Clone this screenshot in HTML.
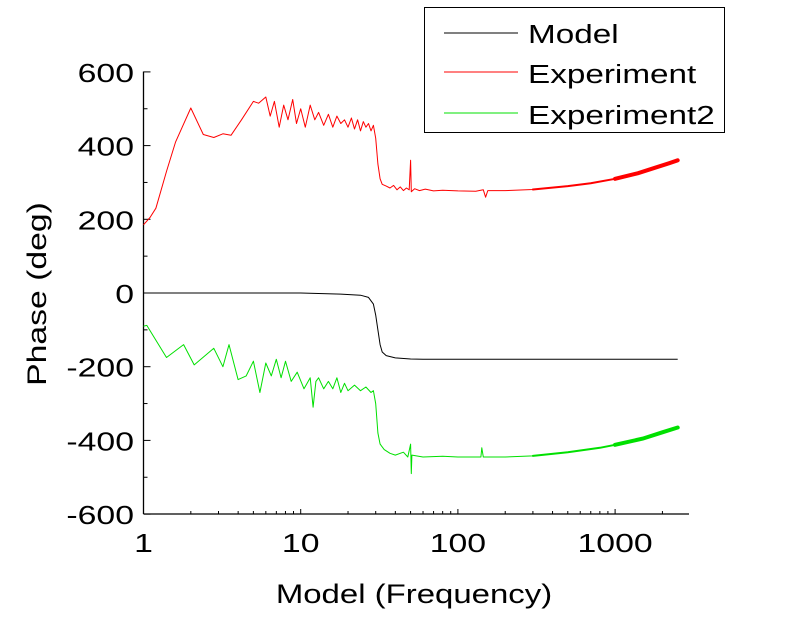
<!DOCTYPE html>
<html><head><meta charset="utf-8"><style>
html,body{margin:0;padding:0;background:#fff;}
svg{display:block;font-family:"Liberation Sans",Arial,sans-serif;}
</style></head><body>
<svg id="chart" width="800" height="617" viewBox="0 0 800 617" xmlns="http://www.w3.org/2000/svg">
<g id="axes"></g>
<g id="series"></g>
<text x="0" y="0" transform="translate(46,294) rotate(-90) scale(1.25,1)" text-anchor="middle" font-size="27">Phase (deg)</text>
<text x="0" y="0" transform="translate(414,603) scale(1.22,1)" text-anchor="middle" font-size="27">Model (Frequency)</text>
<g>
<rect x="424.5" y="7.5" width="300" height="125" fill="#fff" stroke="#000" stroke-width="1"/>
<line x1="444" y1="33" x2="518" y2="33" stroke="#000" stroke-width="1"/>
<text x="0" y="0" transform="translate(528,43) scale(1.28,1)" font-size="26">Model</text>
<line x1="444" y1="72" x2="518" y2="72" stroke="#ff0000" stroke-width="1"/>
<text x="0" y="0" transform="translate(528,83) scale(1.28,1)" font-size="26">Experiment</text>
<line x1="444" y1="113" x2="518" y2="113" stroke="#00e000" stroke-width="1"/>
<text x="0" y="0" transform="translate(528,124) scale(1.28,1)" font-size="26">Experiment2</text>
</g>
</svg>
<script>
const xTickValues = [1, 10, 100, 1000];
const xTickLabels = ["1", "10", "100", "1000"];
const yTickValues = [-600, -400, -200, 0, 200, 400, 600];
const yTickLabels = ["-600", "-400", "-200", "0", "200", "400", "600"];
const modelFreq = [1,10,18,24,27,29,30,31,32,33,35,40,50,60,2500];
const modelPhase = [0,0,-3,-6,-12,-30,-60,-100,-140,-160,-170,-176,-179,-180,-180];
const expFreq = [1,1.1,1.2,1.4,1.6,2.0,2.4,2.8,3.2,3.6,4.2,5.0,5.4,6.0,6.4,6.8,7.3,7.8,8.3,8.9,9.4,10,10.7,11.5,12.3,13,14,15,16,17,18,19,20,21,22,23,24,25,26,27,28,29,30,31,32,33,35,37,39,41,43,45,47,49,50,50.5,53,57,62,70,80,100,130,145,150,155,200,300,500,700,1000,1400,1800,2200,2500];
const expPhase = [185,205,230,330,410,502,430,422,432,428,470,520,515,532,480,520,450,510,470,525,460,500,450,510,470,490,455,485,450,480,460,470,450,475,445,470,440,465,450,460,440,455,420,350,310,295,290,285,292,280,288,278,285,280,360,275,283,278,282,277,279,277,276,280,260,278,278,281,290,298,310,325,340,352,360];
const exp2Freq = [1,1.05,1.4,1.8,2.1,2.8,3.2,3.5,4.0,4.5,5.0,5.5,6.0,6.5,7.0,7.5,8,8.7,9.5,10.5,11.5,12,12.5,13,14,15,16,17,18,19,20,22,24,26,28,29,30,31,32,34,37,40,45,48,50,50.5,51,60,80,100,140,142,145,200,300,500,800,1000,1500,2000,2500];
const exp2Phase = [-90,-88,-175,-140,-195,-150,-200,-140,-235,-225,-185,-270,-190,-225,-180,-230,-185,-240,-215,-260,-230,-310,-240,-230,-260,-240,-260,-230,-270,-245,-265,-250,-265,-255,-270,-265,-300,-380,-410,-425,-435,-440,-432,-445,-410,-490,-440,-445,-443,-445,-445,-420,-445,-445,-442,-432,-420,-412,-395,-378,-365];

const X0 = 143.5, DEC = 157.2, XEND = 689;
const Y0 = 293, YPER = 73.7 / 200, YTOP = 71.5, YBOT = 514;
function xs(f){ return X0 + Math.log10(f) * DEC; }
function ys(v){ return Y0 - v * YPER; }
const NS = "http://www.w3.org/2000/svg";
const axes = document.getElementById('axes');
const series = document.getElementById('series');
function mk(tag, attrs, parent){ const e = document.createElementNS(NS, tag); for (const k in attrs) e.setAttribute(k, attrs[k]); parent.appendChild(e); return e; }

let yl = mk('line', {x1:X0, y1:YTOP, x2:X0, y2:YBOT, stroke:'#000','stroke-width':1.3}, axes);


let xl = mk('line', {x1:X0, y1:YBOT, x2:XEND, y2:YBOT, stroke:'#000','stroke-width':1.3}, axes);



for (let i = 0; i < yTickValues.length; i++) {
  const y = ys(yTickValues[i]);
  const t = mk('line', {x1:X0, y1:y, x2:X0+7, y2:y, stroke:'#000','stroke-width':1}, axes);
  
  
  if (i < yTickValues.length - 1) {
    const m = ys((yTickValues[i] + yTickValues[i+1]) / 2);
    const mt = mk('line', {x1:X0, y1:m, x2:X0+4, y2:m, stroke:'#000','stroke-width':1}, axes);
    
    
  }
  const lb = mk('text', {x:0, y:0, transform:'translate(134,' + (y+10) + ') scale(1.3,1)', 'text-anchor':'end', 'font-size':26}, axes);
  lb.textContent = yTickLabels[i];
  
  
}
for (let i = 0; i < xTickValues.length; i++) {
  const x = xs(xTickValues[i]);
  const lb = mk('text', {x:0, y:0, transform:'translate(' + x + ',552) scale(1.3,1)', 'text-anchor':'middle', 'font-size':26}, axes);
  lb.textContent = xTickLabels[i];
  
  
  for (let k = 1; k <= 9; k++) {
    const f = xTickValues[i] * k;
    const xx = xs(f);
    if (xx > XEND) break;
    const len = k === 1 ? 5 : 3;
    const t = mk('line', {x1:xx, y1:YBOT, x2:xx, y2:YBOT-len, stroke:'#000','stroke-width':1}, axes);
    
    
  }
}
function drawSeries(fr, ph, color, name, width){
  const pts = fr.map((f, i) => xs(f).toFixed(1) + ',' + ys(ph[i]).toFixed(1)).join(' ');
  const p = mk('polyline', {points:pts, fill:'none', stroke:color, 'stroke-width':width, 'stroke-linejoin':'round'}, series);
  
  
}
drawSeries(modelFreq, modelPhase, '#000', 'model-line', 1);
drawSeries(expFreq, expPhase, '#ff0000', 'experiment-line', 1);
drawSeries(exp2Freq, exp2Phase, '#00e000', 'experiment2-line', 1);
function drawBand(fr, ph, color, name, minF, w){
  const sel = fr.map((f,i)=>[f,ph[i]]).filter(d => d[0] >= minF);
  const pts = sel.map(d => xs(d[0]).toFixed(1) + ',' + ys(d[1]).toFixed(1)).join(' ');
  const p = mk('polyline', {points:pts, fill:'none', stroke:color, 'stroke-width':w, 'stroke-linecap':'round'}, series);
  
  
}
drawBand(expFreq, expPhase, '#ff0000', 'experiment-noise-band', 300, 2);
drawBand(expFreq, expPhase, '#ff0000', 'experiment-noise-band-high', 1000, 4);
drawBand(exp2Freq, exp2Phase, '#00e000', 'experiment2-noise-band', 300, 2);
drawBand(exp2Freq, exp2Phase, '#00e000', 'experiment2-noise-band-high', 1000, 4);
</script>
</body></html>
